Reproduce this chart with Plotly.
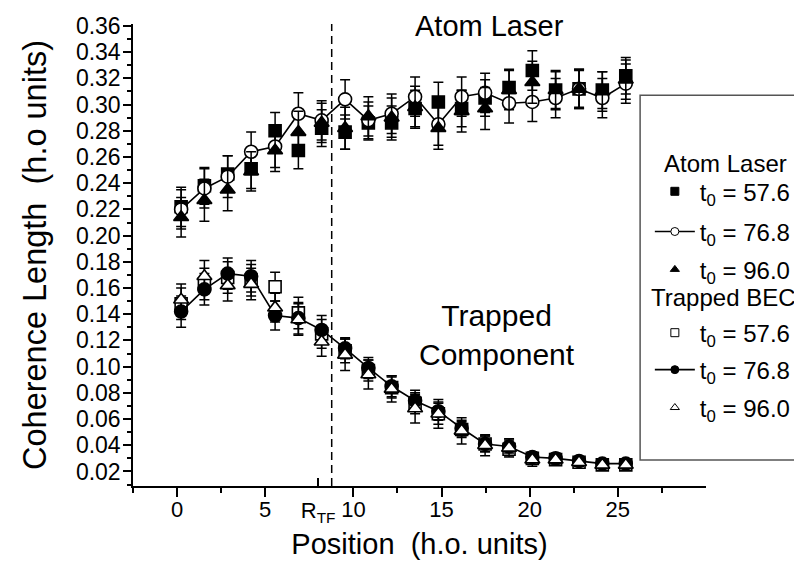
import plotly.graph_objects as go

# ---------------- data ----------------
x_pos = [0.23, 1.55, 2.87, 4.20, 5.56, 6.88, 8.20, 9.53, 10.85, 12.17,
         13.50, 14.82, 16.14, 17.47, 18.83, 20.15, 21.47, 22.80, 24.12, 25.45]

# Atom laser
al_576 = [0.222, 0.238, 0.247, 0.251, 0.280, 0.265, 0.282, 0.279, 0.286, 0.286,
          0.297, 0.302, 0.297, 0.305, 0.313, 0.326, 0.311, 0.312, 0.311, 0.322]
al_576_err = [0.015, 0.014, 0.014, 0.015, 0.014, 0.014, 0.014, 0.013, 0.013, 0.013,
              0.014, 0.015, 0.014, 0.014, 0.014, 0.015, 0.014, 0.014, 0.014, 0.014]
al_768 = [0.220, 0.236, 0.245, 0.264, 0.268, 0.293, 0.288, 0.304, 0.288, 0.293,
          0.306, 0.285, 0.306, 0.309, 0.301, 0.302, 0.305, 0.312, 0.305, 0.316]
al_768_err = [0.015, 0.015, 0.016, 0.015, 0.016, 0.016, 0.015, 0.015, 0.014, 0.015,
              0.015, 0.016, 0.015, 0.015, 0.015, 0.015, 0.015, 0.015, 0.015, 0.015]
al_960 = [0.214, 0.227, 0.235, 0.249, 0.265, 0.279, 0.286, 0.282, 0.291, 0.290,
          0.298, 0.282, 0.295, 0.297, 0.311, 0.317, 0.311, 0.312, 0.310, 0.319]
al_960_err = [0.015, 0.016, 0.016, 0.015, 0.016, 0.016, 0.015, 0.016, 0.015, 0.015,
              0.016, 0.016, 0.016, 0.016, 0.015, 0.016, 0.015, 0.015, 0.015, 0.015]

# Trapped BEC
tb_576 = [0.148, 0.163, 0.168, 0.166, 0.161, 0.141, 0.125, 0.112, 0.097, 0.084,
          0.072, 0.064, 0.052, 0.041, 0.037, 0.030, 0.029, 0.027, 0.025, 0.025]
tb_576_err = [0.012, 0.012, 0.012, 0.012, 0.011, 0.012, 0.011, 0.009, 0.008, 0.008,
              0.008, 0.008, 0.006, 0.006, 0.005, 0.004, 0.004, 0.003, 0.003, 0.003]
tb_768 = [0.142, 0.159, 0.171, 0.169, 0.139, 0.137, 0.128, 0.114, 0.099, 0.085,
          0.074, 0.066, 0.053, 0.041, 0.039, 0.031, 0.030, 0.028, 0.026, 0.026]
tb_768_err = [0.012, 0.012, 0.012, 0.012, 0.011, 0.012, 0.011, 0.008, 0.008, 0.008,
              0.008, 0.007, 0.006, 0.006, 0.005, 0.004, 0.004, 0.003, 0.003, 0.003]
tb_960 = [0.151, 0.169, 0.162, 0.163, 0.145, 0.136, 0.119, 0.109, 0.094, 0.083,
          0.068, 0.064, 0.051, 0.040, 0.038, 0.029, 0.029, 0.027, 0.025, 0.025]
tb_960_err = [0.012, 0.012, 0.012, 0.012, 0.011, 0.012, 0.011, 0.012, 0.011, 0.010,
              0.011, 0.011, 0.010, 0.008, 0.007, 0.005, 0.004, 0.003, 0.003, 0.003]

group_titles = ["Atom Laser", "Trapped BEC"]
legend_labels = ["t<sub>0</sub> = 57.6", "t<sub>0</sub> = 76.8", "t<sub>0</sub> = 96.0"]
x_ticks = [0, 5, 10, 15, 20, 25]
x_minor = [-2.5, 2.5, 12.5, 17.5, 22.5, 27.5]
y_ticks = [0.02, 0.04, 0.06, 0.08, 0.10, 0.12, 0.14, 0.16, 0.18,
           0.20, 0.22, 0.24, 0.26, 0.28, 0.30, 0.32, 0.34, 0.36]
y_minor = [0.01, 0.03, 0.05, 0.07, 0.09, 0.11, 0.13, 0.15, 0.17,
           0.19, 0.21, 0.23, 0.25, 0.27, 0.29, 0.31, 0.33, 0.35]
r_tf_tick = 8.0
r_tf_line = 8.77

FONT = "Liberation Sans, Arial, sans-serif"
BLACK = "black"

fig = go.Figure()


def err(vals):
    return dict(type="data", array=vals, visible=True, color=BLACK,
                thickness=1.5, width=5)


def add_series(y, e, symbol, fill, with_line):
    fig.add_trace(go.Scatter(
        x=x_pos, y=y, mode="lines+markers" if with_line else "markers",
        line=dict(color=BLACK, width=1.6),
        marker=dict(symbol=symbol, size=13 if symbol != "square" else 12,
                    color=fill, line=dict(color=BLACK, width=1.6)),
        error_y=err(e), showlegend=False, hoverinfo="skip"))


# Atom laser
add_series(al_576, al_576_err, "square", BLACK, False)
add_series(al_768, al_768_err, "circle", "white", True)
add_series(al_960, al_960_err, "triangle-up", BLACK, False)
# Trapped BEC
add_series(tb_576, tb_576_err, "square", "white", False)
add_series(tb_768, tb_768_err, "circle", BLACK, True)
add_series(tb_960, tb_960_err, "triangle-up", "white", False)

# legend-only entries, each in its own legend box for exact placement
legend_specs = [
    ("square", BLACK, False),
    ("circle", "white", True),
    ("triangle-up", BLACK, False),
    ("square", "white", False),
    ("circle", BLACK, True),
    ("triangle-up", "white", False),
]
legend_y = [0.637, 0.550, 0.468, 0.331, 0.251, 0.169]
legend_layout = {}
for i, (sym, fill, with_line) in enumerate(legend_specs):
    lname = "legend" if i == 0 else f"legend{i + 1}"
    fig.add_trace(go.Scatter(
        x=[None], y=[None], mode="lines+markers" if with_line else "markers",
        name=legend_labels[i % 3], legend=lname,
        line=dict(color=BLACK, width=1.6),
        marker=dict(symbol=sym, size=8, color=fill, line=dict(color=BLACK, width=1)),
        showlegend=True))
    legend_layout[lname] = dict(
        x=0.902, y=legend_y[i], xanchor="left", yanchor="middle",
        bgcolor="rgba(0,0,0,0)", borderwidth=0,
        font=dict(size=24, family=FONT, color=BLACK), itemwidth=40)

fig.add_trace(go.Scatter(x=[None], y=[None], xaxis="x2", showlegend=False))

fig.update_layout(
    width=794, height=570,
    margin=dict(l=133, r=88, t=24, b=84, autoexpand=False),
    paper_bgcolor="white", plot_bgcolor="white",
    font=dict(family=FONT, color=BLACK, size=23),
    xaxis=dict(range=[-2.5, 30], tickmode="array", tickvals=x_ticks,
               ticks="outside", ticklen=9, tickwidth=1.5, tickcolor=BLACK,
               showline=True, linecolor=BLACK, linewidth=1.5, showgrid=False,
               zeroline=False, tickfont=dict(size=22), ticklabelstandoff=-6,
               minor=dict(tickmode="array", tickvals=x_minor, ticks="outside",
                          ticklen=5, tickwidth=1.5, tickcolor=BLACK, showgrid=False),
               title=dict(text="Position\u00a0\u00a0(h.o. units)", font=dict(size=29),
                          standoff=13)),
    xaxis2=dict(range=[-2.5, 30], overlaying="x", side="bottom", anchor="y",
                tickmode="array", tickvals=[r_tf_tick], ticktext=["R<sub>TF</sub>"],
                ticks="inside", ticklen=8, tickwidth=1.5, tickcolor=BLACK,
                showline=False, showgrid=False, zeroline=False,
                ticklabelstandoff=9, tickfont=dict(size=22)),
    yaxis=dict(range=[0.0089, 0.3615], tickmode="array", tickvals=y_ticks,
               tickformat=".2f", ticks="outside", ticklen=8, tickwidth=1.5,
               tickcolor=BLACK, showline=True, linecolor=BLACK, linewidth=1.5,
               showgrid=False, zeroline=False, tickfont=dict(size=23),
               ticklabelstandoff=-2,
               minor=dict(tickmode="array", tickvals=y_minor, ticks="outside",
                          ticklen=4, tickwidth=1.5, tickcolor=BLACK, showgrid=False),
               title=dict(text="Coherence Length\u00a0\u00a0(h.o units)",
                          font=dict(size=32.5), standoff=20)),
    shapes=[
        dict(type="line", xref="x", yref="paper", x0=r_tf_line, x1=r_tf_line,
             y0=0, y1=1, line=dict(color=BLACK, width=1.5, dash="8px,5px")),
        dict(type="rect", xref="paper", yref="paper", x0=0.885, x1=1.5,
             y0=0.0563, y1=0.846, line=dict(color="#555555", width=1.5)),
    ],
    annotations=[
        dict(text="Atom Laser", xref="paper", yref="paper", x=0.623, y=0.996,
             xanchor="center", yanchor="middle", showarrow=False,
             font=dict(size=29)),
        dict(text="Trapped<br>Component", xref="paper", yref="paper", x=0.635,
             y=0.327, xanchor="center", yanchor="middle", showarrow=False,
             font=dict(size=30)),
        dict(text=group_titles[0], xref="paper", yref="paper", x=0.9225, y=0.699,
             xanchor="left", yanchor="middle", showarrow=False, font=dict(size=24)),
        dict(text=group_titles[1], xref="paper", yref="paper", x=0.9005, y=0.407,
             xanchor="left", yanchor="middle", showarrow=False, font=dict(size=24)),
    ],
)
fig.update_layout(**legend_layout)

fig.write_html("out.html", config={"displayModeBar": False},
               post_script="document.body.style.margin='0';"
                           "document.body.style.overflow='hidden';")
